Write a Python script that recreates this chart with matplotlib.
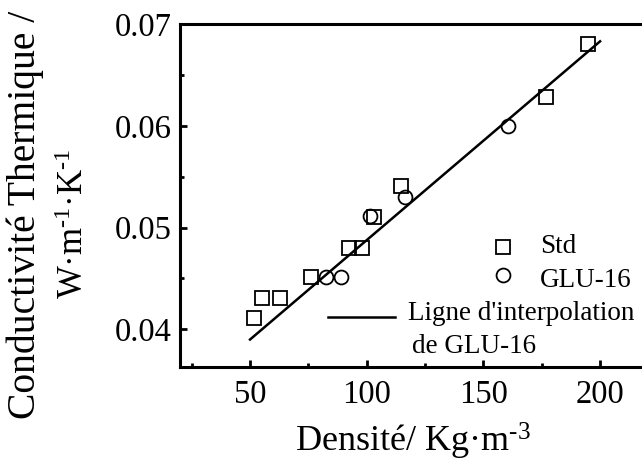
import matplotlib.pyplot as plt
from matplotlib.ticker import MultipleLocator

plt.rcParams['font.family'] = ['Liberation Serif', 'DejaVu Serif']
plt.rcParams['mathtext.fontset'] = 'custom'
plt.rcParams['mathtext.rm'] = 'Liberation Serif'
plt.rcParams['mathtext.it'] = 'Liberation Serif:italic'

# Std samples (squares)
std_density = [51.7, 55.0, 62.9, 76.0, 92.6, 97.9, 103.0, 114.6, 176.7, 195.0]
std_cond = [0.0411, 0.0431, 0.0431, 0.0451, 0.0480, 0.0480, 0.0510, 0.0541, 0.0628, 0.0680]

# GLU-16 samples (circles)
glu_density = [82.5, 89.0, 101.5, 116.6, 160.7]
glu_cond = [0.0451, 0.0451, 0.0511, 0.0530, 0.0600]

# interpolation line for GLU-16
fit_x = [50, 200]
fit_y = [0.0390, 0.0683]

fig = plt.figure(figsize=(6.42, 4.62), dpi=100)
ax = fig.add_axes([0.2804, 0.2056, 0.727, 0.7424])

ax.plot(fit_x, fit_y, color='black', lw=1.8, zorder=2)
ax.plot(std_density, std_cond, ls='none', marker='s', ms=9.5, mfc='none',
        mec='black', mew=1.3, zorder=3)
ax.plot(glu_density, glu_cond, ls='none', marker='o', ms=10, mfc='none',
        mec='black', mew=1.3, zorder=3)

ax.set_xlim(20, 220)
ax.set_ylim(0.0363, 0.07)
ax.xaxis.set_major_locator(MultipleLocator(50))
ax.xaxis.set_minor_locator(MultipleLocator(25))
ax.yaxis.set_minor_locator(MultipleLocator(0.005))
ax.set_yticks([0.04, 0.05, 0.06, 0.07])

for s in ax.spines.values():
    s.set_linewidth(2.2)
ax.tick_params(which='major', direction='in', length=5, width=2,
               labelsize=23.5, pad=6)
ax.tick_params(which='minor', direction='in', length=3, width=2)
ax.tick_params(axis='x', which='major', pad=9)

ax.set_xlabel(r'Densité/ Kg·m$^{\text{-3}}$', fontsize=26, labelpad=8)

# y label in two lines, each placed where it sits in the figure
ax.text(-0.332, 0.443, 'Conductivité Thermique /', transform=ax.transAxes,
        rotation=90, ha='center', va='center', fontsize=28.5)
ax.text(-0.226, 0.418, r'W·m$^{\text{-1}}$·K$^{\text{-1}}$',
        transform=ax.transAxes, rotation=90, ha='center', va='center',
        fontsize=25)

# legend drawn by hand, keys at the spots seen in the figure
tr = ax.transAxes
ax.plot([0.692], [0.351], transform=tr, marker='s', ms=9.5, mfc='none',
        mec='black', mew=1.3, clip_on=False)
ax.plot([0.692], [0.268], transform=tr, marker='o', ms=10, mfc='none',
        mec='black', mew=1.3, clip_on=False)
ax.plot([0.317, 0.461], [0.147, 0.147], transform=tr, color='black', lw=1.8)
ax.text(0.771, 0.331, 'Std', transform=tr, fontsize=19.5, va='baseline')
ax.text(0.771, 0.234, 'GLU-16', transform=tr, fontsize=19.5, va='baseline')
ax.text(0.489, 0.137, "Ligne d'interpolation", transform=tr, fontsize=19.5,
        va='baseline')
ax.text(0.497, 0.040, 'de GLU-16', transform=tr, fontsize=19.5, va='baseline')

fig.savefig('out.png', dpi=100)
